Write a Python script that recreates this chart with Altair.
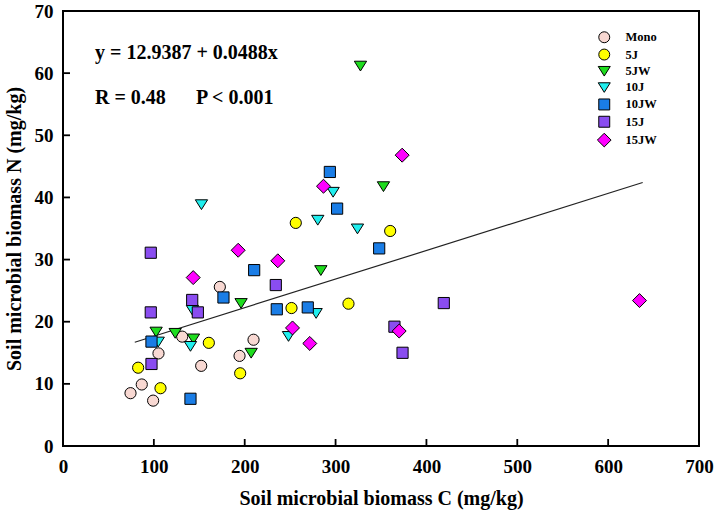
import altair as alt
import pandas as pd

groups = ["Mono", "5J", "5JW", "10J", "10JW", "15J", "15JW"]
colors = ["#F8D8D2", "#FFFF00", "#1EDC1E", "#20EEEE", "#1A7DE6", "#8A4DF0", "#FF00FF"]
tri_down = "M-1.1,-0.8L1.1,-0.8L0,0.95Z"
diamond = "M-1.25,0L0,-1.25L1.25,0L0,1.25Z"
shapes = ["circle", "circle", tri_down, tri_down, "square", "square", diamond]

mono_c = [172.6, 131.2, 209.7, 194.3, 105.1, 152.1, 86.7, 74.3, 99.2]
mono_n = [25.6, 17.6, 17.1, 14.5, 14.9, 12.9, 9.9, 8.5, 7.3]
j5_c = [82.7, 107.3, 160.5, 195.0, 256.2, 360.1, 251.5, 314.2]
j5_n = [12.6, 9.3, 16.6, 11.7, 35.9, 34.6, 22.2, 22.9]
jw5_c = [102.5, 123.5, 143.6, 196.0, 207.1, 283.8, 352.7, 327.4]
jw5_n = [18.4, 18.2, 17.3, 23.0, 15.0, 28.3, 41.8, 61.2]
j10_c = [152.4, 297.3, 280.4, 324.1, 278.6, 248.2, 142.5, 140.3, 104.8]
j10_n = [38.9, 40.9, 36.4, 35.0, 21.4, 17.7, 21.9, 16.1, 16.8]
jw10_c = [293.7, 301.7, 348.0, 210.4, 176.6, 235.3, 269.4, 97.4, 140.3]
jw10_n = [44.1, 38.2, 31.8, 28.3, 23.9, 22.0, 22.3, 16.8, 7.6]
j15_c = [96.6, 142.2, 148.4, 96.6, 97.4, 234.2, 364.8, 373.7, 419.1]
j15_n = [31.1, 23.5, 21.5, 21.5, 13.2, 25.9, 19.2, 15.0, 23.0]
jw15_c = [143.3, 192.8, 236.4, 286.7, 373.3, 252.6, 271.6, 370.0, 634.5]
jw15_n = [27.1, 31.5, 29.8, 41.8, 46.8, 19.0, 16.5, 18.5, 23.4]

# fitted line as drawn in the figure (end points)
fit_c = [79.0, 638.0]
fit_n = [16.7, 42.4]

x_ticks = [0, 100, 200, 300, 400, 500, 600, 700]
y_ticks = [0, 10, 20, 30, 40, 50, 60, 70]

series = [(mono_c, mono_n), (j5_c, j5_n), (jw5_c, jw5_n), (j10_c, j10_n),
          (jw10_c, jw10_n), (j15_c, j15_n), (jw15_c, jw15_n)]
rows = []
for g, (cs, ns) in zip(groups, series):
    for c, n in zip(cs, ns):
        rows.append({"group": g, "C": c, "N": n})
df = pd.DataFrame(rows)
line_df = pd.DataFrame({"C": fit_c, "N": fit_n})

FONT = "Liberation Serif"
W, H = 636, 435

xscale = alt.Scale(domain=[0, 700], nice=False, zero=False)
yscale = alt.Scale(domain=[0, 70], nice=False, zero=False)

xaxis = alt.Axis(values=x_ticks, title="Soil microbial biomass C (mg/kg)", grid=False,
                 domain=False, ticks=False, labelPadding=11, labelFontSize=19,
                 labelFont=FONT, labelFontWeight="bold", labelColor="black",
                 titleFont=FONT, titleFontSize=20, titleFontWeight="bold",
                 titleColor="black", titlePadding=12, labelFlush=False)
yaxis = alt.Axis(values=y_ticks, title="Soil microbial biomass N (mg/kg)", grid=False,
                 domain=False, ticks=False, labelPadding=10, labelFontSize=19,
                 labelFont=FONT, labelFontWeight="bold", labelColor="black",
                 titleFont=FONT, titleFontSize=20, titleFontWeight="bold",
                 titleColor="black", titlePadding=10, labelFlush=False)

leg = alt.Legend(title=None, orient="none", legendX=535, legendY=20,
                 labelFont=FONT, labelFontSize=12.5, labelFontWeight="bold",
                 labelColor="black", symbolStrokeColor="black", symbolStrokeWidth=1,
                 rowPadding=1.3, labelOffset=15, padding=0, symbolSize=120)

points = alt.Chart(df).mark_point(filled=True, stroke="black", strokeWidth=1, opacity=1,
                                  size=125).encode(
    x=alt.X("C:Q", scale=xscale, axis=xaxis),
    y=alt.Y("N:Q", scale=yscale, axis=yaxis),
    color=alt.Color("group:N", scale=alt.Scale(domain=groups, range=colors), legend=leg),
    shape=alt.Shape("group:N", scale=alt.Scale(domain=groups, range=shapes), legend=leg),
)

line = alt.Chart(line_df).mark_line(color="#222222", strokeWidth=1.2).encode(
    x=alt.X("C:Q", scale=xscale), y=alt.Y("N:Q", scale=yscale))

xt = pd.DataFrame({"C": x_ticks[1:-1]})
yt = pd.DataFrame({"N": y_ticks[1:-1]})
xtick_marks = alt.Chart(xt).mark_rule(color="black", strokeWidth=1.8).encode(
    x=alt.X("C:Q", scale=xscale), y=alt.value(H), y2=alt.value(H - 7))
ytick_marks = alt.Chart(yt).mark_rule(color="black", strokeWidth=1.8).encode(
    y=alt.Y("N:Q", scale=yscale), x=alt.value(0), x2=alt.value(7))

eq_text = alt.Chart(pd.DataFrame({"t": ["y = 12.9387 + 0.0488x"]})).mark_text(
    align="left", baseline="middle", font=FONT, fontSize=20, fontWeight="bold", color="black"
).encode(text="t:N", x=alt.value(32), y=alt.value(42))
r_text = alt.Chart(pd.DataFrame({"t": ["R = 0.48"]})).mark_text(
    align="left", baseline="middle", font=FONT, fontSize=20, fontWeight="bold", color="black"
).encode(text="t:N", x=alt.value(32), y=alt.value(87))
p_text = alt.Chart(pd.DataFrame({"t": ["P < 0.001"]})).mark_text(
    align="left", baseline="middle", font=FONT, fontSize=20, fontWeight="bold", color="black"
).encode(text="t:N", x=alt.value(133), y=alt.value(87))

chart = alt.layer(line, points, xtick_marks, ytick_marks, eq_text, r_text, p_text).properties(
    width=W, height=H,
    autosize=alt.AutoSizeParams(type="none"),
    padding={"left": 63, "top": 11, "right": 21, "bottom": 65},
    background="white",
).configure_view(stroke="black", strokeWidth=2)

chart.save("out.html", embed_options={"renderer": "svg", "actions": False})
